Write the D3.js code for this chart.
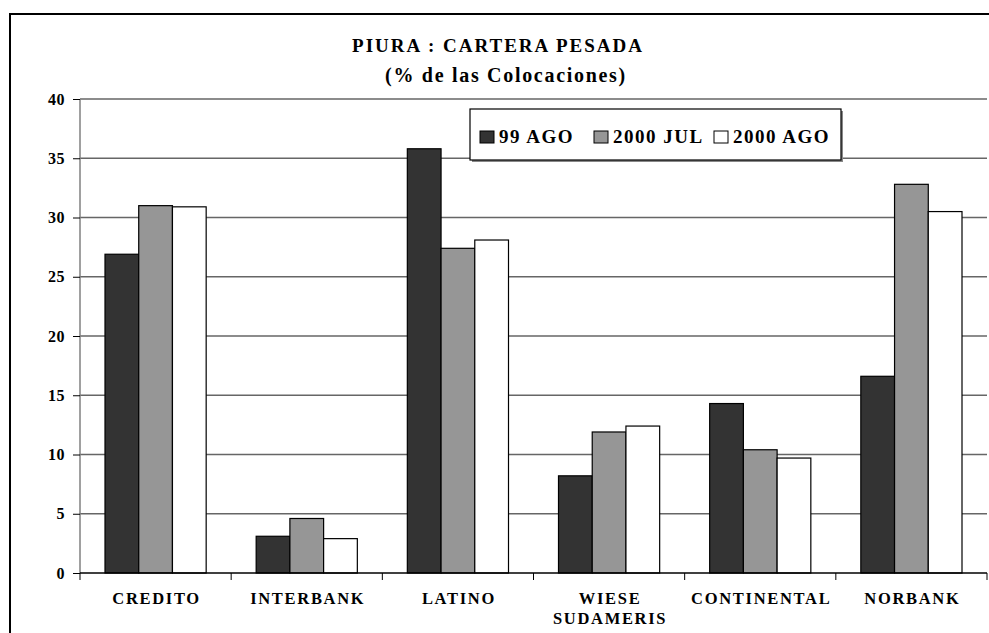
<!DOCTYPE html>
<html><head><meta charset="utf-8">
<script src="https://cdn.jsdelivr.net/npm/d3@7"></script>
<style>body{margin:0;background:#fff}svg{display:block}</style>
</head><body>
<script>
const categories = [["CREDITO"],["INTERBANK"],["LATINO"],["WIESE","SUDAMERIS"],["CONTINENTAL"],["NORBANK"]];
const seriesNames = ["99 AGO","2000 JUL","2000 AGO"];
const ago99   = [26.9, 3.1, 35.8, 8.2, 14.3, 16.6];
const jul2000 = [31.0, 4.6, 27.4, 11.9, 10.4, 32.8];
const ago2000 = [30.9, 2.9, 28.1, 12.4, 9.7, 30.5];
const yTicks = [0,5,10,15,20,25,30,35,40];
const colors = ["#333333","#969696","#ffffff"];
const series = [ago99, jul2000, ago2000];

const W = 989, H = 633;
const svg = d3.select("body").append("svg").attr("width", W).attr("height", H);
const font = "'Liberation Serif','Times New Roman',serif";

// frame
svg.append("rect").attr("x",10).attr("y",14).attr("width",1000).attr("height",700)
  .attr("fill","none").attr("stroke","#000").attr("stroke-width",2);

const pL = 80, pR = 987, pT = 99, pB = 573;
const x0 = d3.scaleBand().domain(d3.range(categories.length)).range([pL,pR]).paddingInner(0).paddingOuter(0);
const x1 = d3.scaleBand().domain(d3.range(3)).range([25, x0.bandwidth()-25]);
const y = d3.scaleLinear().domain([0,40]).range([pB, pT]);

// gridlines
svg.append("g").selectAll("line").data(yTicks.filter(t=>t>0)).join("line")
  .attr("x1",pL).attr("x2",pR).attr("y1",d=>y(d)).attr("y2",d=>y(d))
  .attr("stroke","#666").attr("stroke-width",1.3);

// bars
const g = svg.append("g");
series.forEach((vals, si) => {
  g.selectAll(".b"+si).data(vals).join("rect").attr("class","b"+si)
    .attr("x",(d,i)=>x0(i)+x1(si)).attr("width",x1.bandwidth())
    .attr("y",d=>y(d)).attr("height",d=>y(0)-y(d))
    .attr("fill",colors[si]).attr("stroke","#000").attr("stroke-width",1.2);
});

// y axis
const yAxis = d3.axisLeft(y).tickValues(yTicks).tickSize(7).tickPadding(8).tickFormat(d3.format("d"));
const ya = svg.append("g").attr("transform",`translate(${pL},0)`).call(yAxis);
ya.select(".domain").attr("stroke","#808080").attr("stroke-width",1.5).attr("d",`M0,${pT}V${pB}`);
ya.selectAll(".tick line").attr("stroke","#000");
ya.selectAll("text").attr("font-family",font).attr("font-weight","bold").attr("font-size",16)
  .attr("letter-spacing",0.5).attr("fill","#000");

// x axis
const xa = svg.append("g");
xa.append("line").attr("x1",pL).attr("x2",pR).attr("y1",pB).attr("y2",pB).attr("stroke","#000").attr("stroke-width",1.3);
xa.selectAll(".xt").data(d3.range(categories.length+1)).join("line").attr("class","xt")
  .attr("x1",i=>pL+i*x0.bandwidth()).attr("x2",i=>pL+i*x0.bandwidth())
  .attr("y1",pB).attr("y2",pB+7).attr("stroke","#000");
categories.forEach((lines,i)=>{
  const cx = x0(i)+x0.bandwidth()/2 + 1;
  const t = xa.append("text").attr("x",cx).attr("y",604)
    .attr("text-anchor","middle").attr("font-family",font).attr("font-weight","bold")
    .attr("font-size",16.5).attr("letter-spacing",1.7);
  lines.forEach((l,k)=>t.append("tspan").attr("x",cx).attr("dy",k?20:0).text(l));
});

// title
svg.append("text").attr("x",498).attr("y",52).attr("text-anchor","middle")
  .attr("font-family",font).attr("font-weight","bold").attr("font-size",19).attr("letter-spacing",2)
  .text("PIURA : CARTERA PESADA");
svg.append("text").attr("x",506).attr("y",82).attr("text-anchor","middle")
  .attr("font-family",font).attr("font-weight","bold").attr("font-size",20).attr("letter-spacing",1.7)
  .text("(% de las Colocaciones)");

// legend
const lg = svg.append("g");
lg.append("rect").attr("x",472).attr("y",111).attr("width",371).attr("height",51).attr("fill","#888");
lg.append("rect").attr("x",470).attr("y",109).attr("width",371).attr("height",51)
  .attr("fill","#fff").attr("stroke","#000").attr("stroke-width",1.2);
const legX = [480, 594, 714];
seriesNames.forEach((n,i)=>{
  lg.append("rect").attr("x",legX[i]).attr("y",131).attr("width",14).attr("height",12)
    .attr("fill",colors[i]).attr("stroke","#000").attr("stroke-width",1);
  lg.append("text").attr("x",legX[i]+19).attr("y",142.5).attr("font-family",font).attr("font-weight","bold")
    .attr("font-size",19).attr("letter-spacing",1.5).text(n);
});
</script>
</body></html>
